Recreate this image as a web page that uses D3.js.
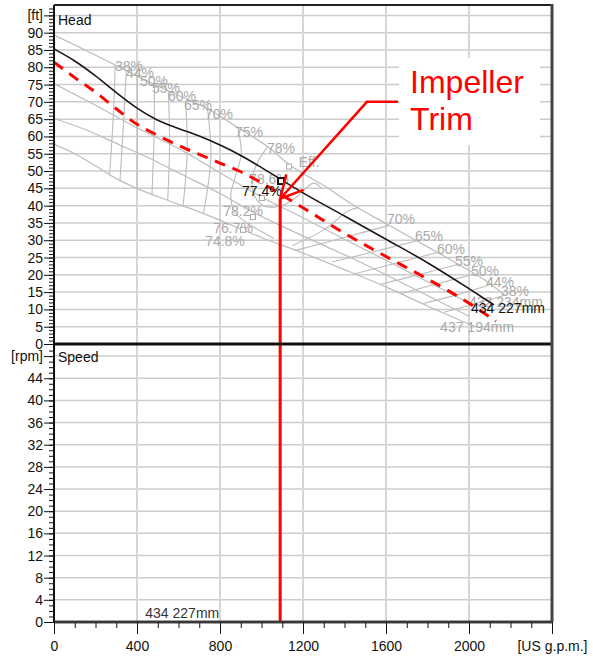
<!DOCTYPE html>
<html><head><meta charset="utf-8">
<script src="https://cdn.jsdelivr.net/npm/d3@7"></script>
<style>body{margin:0;background:#fff} svg{display:block;font-family:"Liberation Sans",Arial,sans-serif}</style>
</head><body><svg id="c" width="593" height="657"></svg>
<script>
// ---------- DATA ----------
const xTicks = [0,400,800,1200,1600,2000,2400];
const headTicks = [0,5,10,15,20,25,30,35,40,45,50,55,60,65,70,75,80,85,90,95];
const speedTicks = [0,4,8,12,16,20,24,28,32,36,40,44,48];

// head curve of selected impeller 434 227mm (US gpm, ft)
const curve227 = [[0,85.3],[100,81.8],[200,77.5],[300,72.7],[400,68.2],[500,64.7],[600,62.3],[700,60.1],[800,57.5],[900,54.5],[1000,51],[1100,47.3],[1200,43.7],[1400,37],[1600,30.3],[1800,23.5],[2000,16],[2120,11.3]];
// trimmed impeller curve (red dashed)
const curveTrim = [[0,81.5],[100,77],[200,72.8],[300,68],[400,63.5],[500,60.3],[600,57.4],[700,54.8],[800,52.3],[900,49.8],[1000,46.6],[1100,43],[1200,39.4],[1400,32],[1600,25.3],[1800,18.8],[2000,11.8],[2130,6.6]];
// gray head curves of other diameters
const curveMax = [[0,89.3],[150,85],[300,80.5],[400,77.5],[550,73.2],[740,68],[885,62.6],[1030,57],[1140,51.6],[1300,45.8],[1450,39.9],[1615,34.3],[1750,29.8],[1850,26.4],[1950,23],[2050,19.5],[2100,17.5],[2170,14.2]];
const curveD2 = [[0,75.3],[200,69],[400,62.5],[600,56.5],[800,49.5],[1000,42.5],[1200,36.5],[1400,30.3],[1600,24.2],[1800,18],[1980,12.5]];
const curveD3 = [[0,65.2],[150,62],[300,58],[450,54],[600,49.5],[800,43.5],[963,38],[1100,34],[1300,28.5],[1500,23],[1700,17],[1900,11],[2000,8]];
const curveMin = [[0,57.7],[100,55],[200,51.5],[300,47.8],[400,45],[550,41.5],[700,38.2],[911,33],[1000,30.8],[1200,26.3],[1400,21.5],[1600,16.5],[1800,11],[2030,5]];
const grayCurves = [curveMax, curveD2, curveD3, curveMin];

// iso-efficiency lines
const isoLeft = [
  [[295,80.6],[285,65],[268,49]],
  [[348,79],[335,64],[318,47.2]],
  [[401,77.5],[402,62],[400,45]],
  [[484,75.2],[482,60],[472,43]],
  [[551,73.2],[557,58],[548,41.6]],
  [[634,70.3],[642,56],[622,39.8]],
  [[740,68],[756,54],[720,37.7]],
  [[885,62.6],[902,55],[872,48],[852,43],[872,38],[930,35],[1000,32.5],[1060,30.5]]
];
const iso78 = [[1030,57],[985,53],[955,48],[965,43],[1010,40],[1090,39.8],[1170,42.5],[1250,46.5],[1290,45]];
const isoRight = [
  [[1160,27],[1400,30.8],[1615,34.3]],
  [[1340,23.7],[1550,26.8],[1746,29.8]],
  [[1450,20.3],[1650,23.4],[1852,26.5]],
  [[1570,17.2],[1760,20.1],[1944,23]],
  [[1670,14.5],[1840,17.3],[2017,20.1]],
  [[1780,11.7],[1940,14.2],[2094,17]],
  [[1880,9.2],[2020,11.5],[2166,14]]
];
const iso75Right = [[1150,28.5],[1300,33],[1420,38.5],[1470,39.5]];

const effLabels = [
  ["38%",361,80.4],["44%",414,78.3],["50%",482,76],["55%",540,74],["60%",617,71.7],
  ["65%",694,69.1],["70%",795,66.5],["75%",940,61.3],["78%",1094,56.7],["Eff.",1229,52.6],
  ["78.6%",1036,47.7],["78.2%",911,38.5],["76.7%",863,33.5],["74.8%",824,29.8],
  ["70%",1672,36.1],["65%",1807,31.2],["60%",1913,27.5],["55%",2000,24],["50%",2077,21.1],
  ["44%",2149,17.9],["38%",2222,15.3],["432 234mm",2178,12.0],["437 194mm",2039,4.9]
];
const bepSquares = [[1133,51.3],[1002,42.2],[959,36.7],[911,33]];
const bep227 = [1094,47.1];
const dutyLabel = ["77.4%",1002,44.2];
const curveLabel = ["434 227mm",2188,10.4];
const speedCurve = [[0,0],[2400,0]];
const speedLabel = ["434 227mm",440,0.7];

const trimFlow = 1090, trimHead = 42;
const annoElbow = [1508,70], annoEnd = [1658,70];
const annoText = ["Impeller","Trim"];
const annoTextPos = [[1716,72.6],[1716,61.9]];
const annoBox = [1663,2342,82.7,57.5];

// ---------- SCALES ----------
const svg = d3.select("#c");
const L=54, R=552;
const x = d3.scaleLinear().domain([0,2400]).range([L,R]);
const yH = d3.scaleLinear().domain([0,98]).range([344,5]);
const yS = d3.scaleLinear().domain([0,50]).range([622,345]);

const gridC="#cccccc";
const g = svg.append("g");
g.selectAll(".hh").data(headTicks.filter(d=>d>0)).join("line")
  .attr("x1",L).attr("x2",R).attr("y1",d=>yH(d)).attr("y2",d=>yH(d))
  .attr("stroke",gridC).attr("stroke-width",1.5);
g.selectAll(".hs").data(speedTicks.filter(d=>d>0)).join("line")
  .attr("x1",L).attr("x2",R).attr("y1",d=>yS(d)).attr("y2",d=>yS(d))
  .attr("stroke",gridC).attr("stroke-width",1.5);
g.selectAll(".vt").data(xTicks.filter(d=>d>0&&d<2400)).join("line")
  .attr("x1",d=>x(d)).attr("x2",d=>x(d)).attr("y1",yH(98)).attr("y2",yH(0))
  .attr("stroke","#d6d6d6").attr("stroke-width",2);
g.selectAll(".vb").data(xTicks.filter(d=>d>0&&d<2400)).join("line")
  .attr("x1",d=>x(d)).attr("x2",d=>x(d)).attr("y1",yS(50)).attr("y2",yS(0))
  .attr("stroke","#d6d6d6").attr("stroke-width",2);

svg.append("rect").attr("x",x(annoBox[0])).attr("width",x(annoBox[1])-x(annoBox[0]))
  .attr("y",yH(annoBox[2])).attr("height",yH(annoBox[3])-yH(annoBox[2])).attr("fill","#fff");

svg.append("clipPath").attr("id","tp").append("rect")
  .attr("x",L).attr("y",yH(98)).attr("width",R-L).attr("height",yH(0)-yH(98));
const topG = svg.append("g").attr("clip-path","url(#tp)");

const lineM = d3.line().x(d=>x(d[0])).y(d=>yH(d[1])).curve(d3.curveMonotoneX);
const lineC = d3.line().x(d=>x(d[0])).y(d=>yH(d[1])).curve(d3.curveCatmullRom);
const grayC="#bcbcbc";
topG.selectAll(".gc").data(grayCurves).join("path").attr("d",lineM)
  .attr("fill","none").attr("stroke",grayC).attr("stroke-width",1.2);
topG.selectAll(".il").data(isoLeft.concat(isoRight,[iso78,iso75Right])).join("path").attr("d",lineC)
  .attr("fill","none").attr("stroke",grayC).attr("stroke-width",1.1);

topG.selectAll(".el").data(effLabels).join("text")
  .attr("x",d=>x(d[1])).attr("y",d=>yH(d[2])).attr("dy","0.35em")
  .attr("text-anchor","middle").attr("font-size",14).attr("fill","#a9a9a9").text(d=>d[0]);

topG.selectAll(".sq").data(bepSquares).join("rect")
  .attr("x",d=>x(d[0])-2.5).attr("y",d=>yH(d[1])-2.5).attr("width",5).attr("height",5)
  .attr("fill","#fff").attr("stroke","#aaa").attr("stroke-width",1);

topG.append("path").datum(curve227).attr("d",lineM).attr("fill","none")
  .attr("stroke","#231516").attr("stroke-width",1.6);
topG.append("path").datum(curveTrim).attr("d",lineM).attr("fill","none")
  .attr("stroke","#ff0000").attr("stroke-width",3).attr("stroke-dasharray","11,8");

topG.append("rect").attr("x",x(bep227[0])-3).attr("y",yH(bep227[1])-3).attr("width",6).attr("height",6)
  .attr("fill","#fff").attr("stroke","#111").attr("stroke-width",2);
topG.append("text").attr("x",x(dutyLabel[1])).attr("y",yH(dutyLabel[2])).attr("dy","0.35em")
  .attr("text-anchor","middle").attr("font-size",14).attr("fill","#111").text(dutyLabel[0]);
topG.append("text").attr("x",x(curveLabel[1])).attr("y",yH(curveLabel[2])).attr("dy","0.35em")
  .attr("text-anchor","middle").attr("font-size",14).attr("fill","#111").text(curveLabel[0]);

annoText.forEach((t,i)=>{
  svg.append("text").attr("x",x(annoTextPos[i][0])).attr("y",yH(annoTextPos[i][1]))
    .attr("font-size",32).attr("fill","#ff0000").text(t);
});
const tip=[x(trimFlow),yH(trimHead)], el=[x(annoElbow[0]),yH(annoElbow[1])], en=[x(annoEnd[0]),yH(annoEnd[1])];
svg.append("polyline").attr("points",[en,el,tip].map(p=>p.join(",")).join(" "))
  .attr("fill","none").attr("stroke","#ff0000").attr("stroke-width",2.5);
const ang=Math.atan2(el[1]-tip[1],el[0]-tip[0]);
[-0.48,0.48].forEach(a=>{
  svg.append("line").attr("x1",tip[0]).attr("y1",tip[1])
    .attr("x2",tip[0]+25*Math.cos(ang+a)).attr("y2",tip[1]+25*Math.sin(ang+a))
    .attr("stroke","#ff0000").attr("stroke-width",2.5);
});
svg.append("line").attr("x1",x(trimFlow)).attr("x2",x(trimFlow)).attr("y1",yH(trimHead)).attr("y2",yS(0))
  .attr("stroke","#ff0000").attr("stroke-width",3);

const lineS = d3.line().x(d=>x(d[0])).y(d=>yS(d[1]));
svg.append("path").datum(speedCurve).attr("d",lineS).attr("stroke","#4a4a4a").attr("stroke-width",3).attr("fill","none");
svg.append("text").attr("x",x(speedLabel[1])).attr("y",yS(speedLabel[2])).attr("font-size",14).attr("fill","#333").text(speedLabel[0]);

const fmtH = d=> d===95?"[ft]":d;
const fmtS = d=> d===48?"[rpm]":d;
const fmtX = d=> d===2400?"[US g.p.m.]":d;
function style(sel){sel.select(".domain").remove(); sel.selectAll("text").attr("font-size",14).attr("fill","#111").attr("font-family","Liberation Sans, Arial, sans-serif"); sel.selectAll("line").attr("stroke","#111");}
svg.append("g").attr("transform",`translate(${L},0)`).call(d3.axisLeft(yH).tickValues(d3.range(0,98,1)).tickSize(5).tickFormat("")).call(style);
svg.append("g").attr("transform",`translate(${L},0)`).call(d3.axisLeft(yH).tickValues(headTicks).tickSize(10).tickPadding(1).tickFormat(fmtH)).call(style);
svg.append("g").attr("transform",`translate(${L},0)`).call(d3.axisLeft(yS).tickValues(d3.range(0,50,1)).tickSize(5).tickFormat("")).call(style);
svg.append("g").attr("transform",`translate(${L},0)`).call(d3.axisLeft(yS).tickValues(speedTicks).tickSize(10).tickPadding(1).tickFormat(fmtS)).call(style);
svg.append("g").attr("transform",`translate(0,${yS(0)})`).call(d3.axisBottom(x).tickValues(d3.range(0,2401,100)).tickSize(6).tickFormat("")).call(style);
svg.append("g").attr("transform",`translate(0,${yS(0)})`).call(d3.axisBottom(x).tickValues(xTicks).tickSize(12).tickPadding(7).tickFormat(fmtX)).call(style);

const fr = svg.append("g").attr("fill","none");
fr.append("line").attr("x1",L).attr("x2",R).attr("y1",yH(98)).attr("y2",yH(98)).attr("stroke","#222").attr("stroke-width",2);
fr.append("line").attr("x1",L).attr("x2",R+1).attr("y1",yH(0)).attr("y2",yH(0)).attr("stroke","#111").attr("stroke-width",3);
fr.append("line").attr("x1",L).attr("x2",R+1).attr("y1",yS(0)).attr("y2",yS(0)).attr("stroke","#333").attr("stroke-width",1.5);
fr.append("line").attr("x1",L).attr("x2",L).attr("y1",yH(98)).attr("y2",yS(0)).attr("stroke","#111").attr("stroke-width",2);
fr.append("line").attr("x1",R).attr("x2",R).attr("y1",yH(98)-1).attr("y2",yS(0)).attr("stroke","#444").attr("stroke-width",3);

svg.append("text").attr("x",58).attr("y",24.5).attr("font-size",14).attr("fill","#111").text("Head");
svg.append("text").attr("x",58).attr("y",362).attr("font-size",14).attr("fill","#111").text("Speed");
</script></body></html>
